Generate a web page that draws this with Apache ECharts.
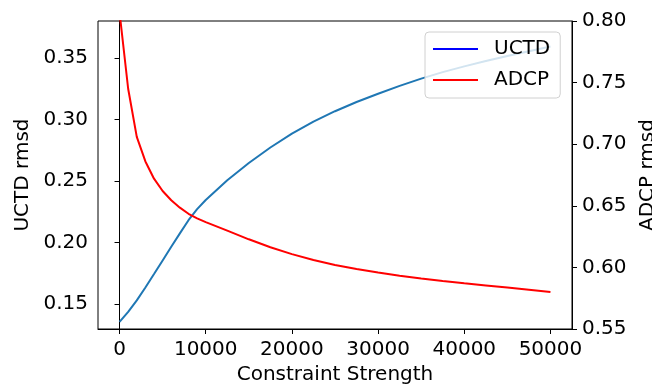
<!DOCTYPE html>
<html>
<head>
<meta charset="utf-8">
<script src="https://cdn.jsdelivr.net/npm/echarts@6/dist/echarts.min.js"></script>
<style>
  html, body { margin: 0; padding: 0; background: #fff; }
  #main { width: 652px; height: 385px; }
</style>
</head>
<body>
<div id="main"></div>
<script>
// constraint strength (x)
var strength = [0, 1000, 2000, 3000, 4000, 5000, 6000, 7000, 8000, 9000, 10000, 12500, 15000, 17500, 20000, 22500, 25000, 27500, 30000, 32500, 35000, 37500, 40000, 42500, 45000, 47500, 50000];
// UCTD rmsd, left axis
var uctd = [0.1355, 0.1437, 0.1530, 0.1635, 0.1744, 0.1855, 0.1966, 0.2075, 0.2182, 0.2272, 0.2347, 0.2508, 0.2648, 0.2774, 0.2886, 0.2985, 0.3069, 0.3144, 0.3211, 0.3275, 0.3334, 0.3387, 0.3434, 0.3477, 0.3518, 0.3557, 0.3595];
// ADCP rmsd, right axis
var adcp = [0.807, 0.745, 0.706, 0.686, 0.672, 0.662, 0.6545, 0.6485, 0.6435, 0.6398, 0.6368, 0.6298, 0.6228, 0.6164, 0.6108, 0.6060, 0.6020, 0.5987, 0.5958, 0.5932, 0.5910, 0.5890, 0.5871, 0.5854, 0.5836, 0.5818, 0.5800];

var xTicks = [0, 10000, 20000, 30000, 40000, 50000];
var leftTicks = [0.15, 0.20, 0.25, 0.30, 0.35];
var rightTicks = [0.55, 0.60, 0.65, 0.70, 0.75, 0.80];

var font = 'DejaVu Sans';

var pairs = function (xs, ys) {
    return xs.map(function (x, i) { return [x, ys[i]]; });
};

var chart = echarts.init(document.getElementById('main'));
chart.setOption({
    animation: false,
    grid: {
        left: 98, right: 80, top: 21, bottom: 56,
        outerBoundsMode: 'none',
        containLabel: false,
        show: true,
        borderColor: '#000',
        borderWidth: 1
    },
    legend: {
        left: 425, top: 32,
        orient: 'vertical',
        padding: [7, 10, 8, 7],
        itemGap: 11,
        itemWidth: 45,
        itemHeight: 14,
        backgroundColor: 'rgba(255,255,255,0.8)',
        borderColor: '#d0d0d0',
        borderWidth: 1,
        borderRadius: 4,
        textStyle: { fontFamily: font, fontSize: 20, color: '#000', padding: [0, 0, 0, 11] },
        // line only in the legend, no marker
        data: [
            { name: 'UCTD', itemStyle: { opacity: 0 }, lineStyle: { color: '#0000ff', width: 2 } },
            { name: 'ADCP', itemStyle: { opacity: 0 }, lineStyle: { color: '#ff0000', width: 2 } }
        ]
    },
    xAxis: {
        type: 'value',
        min: -2500,
        max: 52500,
        name: 'Constraint Strength',
        nameLocation: 'middle',
        nameGap: 36,
        nameTextStyle: { fontFamily: font, fontSize: 20, color: '#000' },
        axisLine: { show: true, lineStyle: { color: '#000', width: 1 } },
        axisTick: { show: true, length: 5, lineStyle: { color: '#000' }, customValues: xTicks },
        axisLabel: {
            fontFamily: font, fontSize: 20, color: '#000', margin: 11,
            customValues: xTicks,
            formatter: function (v) { return String(v); }
        },
        splitLine: { show: false }
    },
    yAxis: [
        {
            type: 'value',
            position: 'left',
            min: 0.1297,
            max: 0.3803,
            name: 'UCTD rmsd',
            nameLocation: 'middle',
            nameGap: 55,
            nameTextStyle: { fontFamily: font, fontSize: 20, color: '#000' },
            axisLine: { show: true, lineStyle: { color: '#000', width: 1 } },
            axisTick: { show: true, length: 5, lineStyle: { color: '#000' }, customValues: leftTicks },
            axisLabel: {
                fontFamily: font, fontSize: 20, color: '#000', margin: 10,
                customValues: leftTicks,
                formatter: function (v) { return v.toFixed(2); }
            },
            splitLine: { show: false }
        },
        {
            type: 'value',
            position: 'right',
            min: 0.55,
            max: 0.80,
            name: 'ADCP rmsd',
            nameLocation: 'middle',
            nameGap: 51,
            nameTextStyle: { fontFamily: font, fontSize: 20, color: '#000' },
            axisLine: { show: true, lineStyle: { color: '#000', width: 1 } },
            axisTick: { show: true, length: 5, lineStyle: { color: '#000' }, customValues: rightTicks },
            axisLabel: {
                fontFamily: font, fontSize: 20, color: '#000', margin: 10,
                customValues: rightTicks,
                formatter: function (v) { return v.toFixed(2); }
            },
            splitLine: { show: false }
        }
    ],
    series: [
        {
            name: 'UCTD',
            type: 'line',
            yAxisIndex: 0,
            symbol: 'none',
            color: '#0000ff',
            lineStyle: { color: '#1f77b4', width: 2 },
            data: pairs(strength, uctd)
        },
        {
            name: 'ADCP',
            type: 'line',
            yAxisIndex: 1,
            symbol: 'none',
            color: '#ff0000',
            lineStyle: { color: '#ff0000', width: 2 },
            data: pairs(strength, adcp)
        }
    ]
});
</script>
</body>
</html>
